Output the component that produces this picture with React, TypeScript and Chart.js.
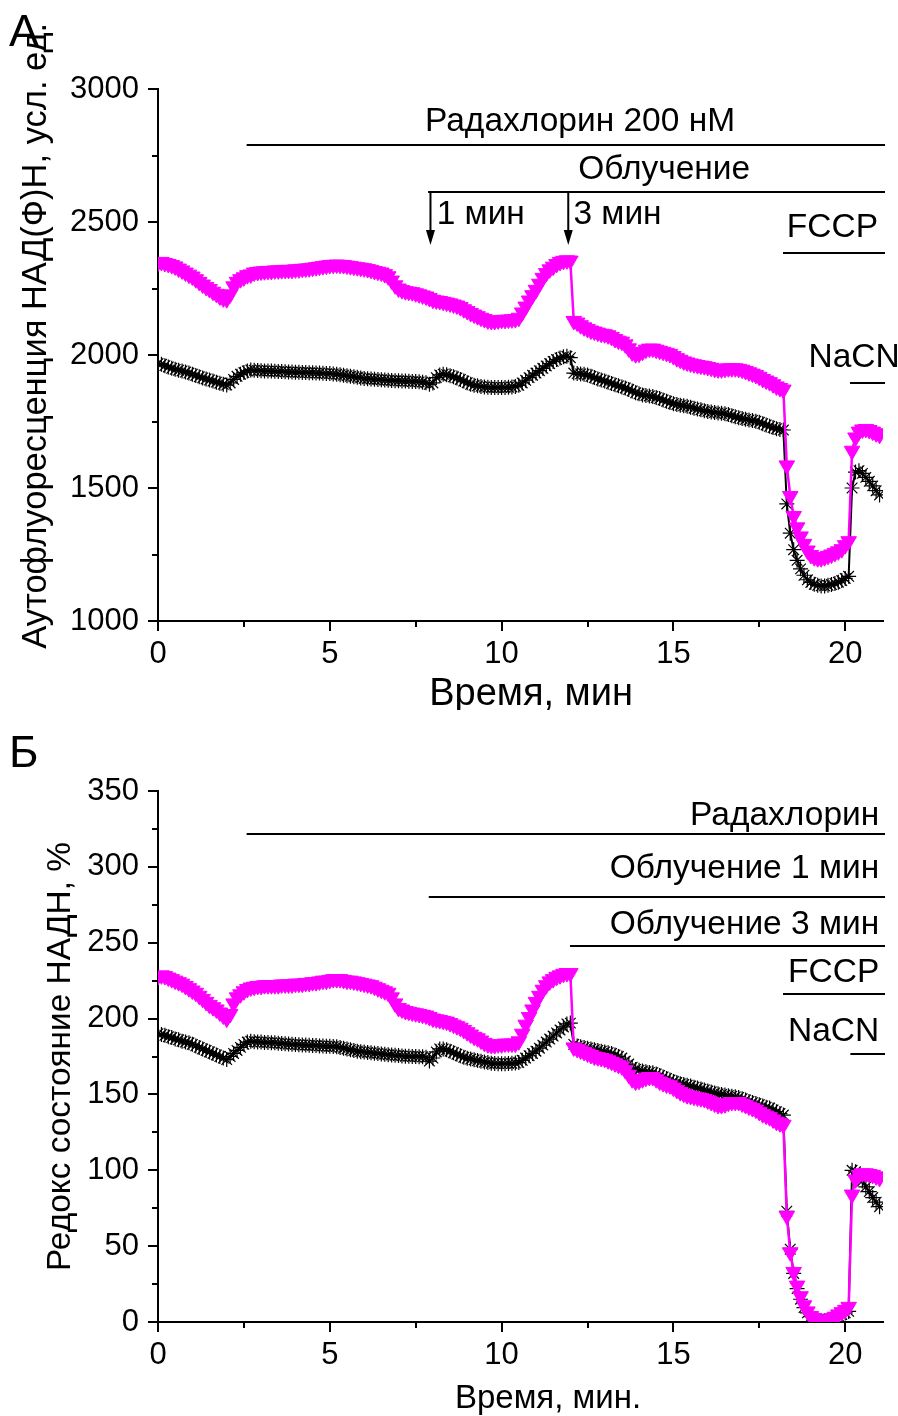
import React, { useEffect, useRef } from 'react';
import { Chart, registerables } from 'chart.js';

Chart.register(...registerables);

const FONT = "'Liberation Sans', Arial, sans-serif";
const MAGENTA = '#FF00FF';

// sampling interval of the recordings, minutes
const TIME_STEP_MIN = 0.1;

// Panel А: NAD(P)H autofluorescence, a.u. (0.0 … 21.0 min)
const A_MAGENTA = [
  2348, 2350, 2346, 2342, 2338, 2333, 2325, 2318, 2310, 2302,
  2295, 2285, 2275, 2265, 2256, 2248, 2238, 2230, 2220, 2213,
  2210, 2228, 2258, 2275, 2285, 2292, 2300, 2303, 2310, 2312,
  2314, 2315, 2316, 2316, 2318, 2318, 2319, 2320, 2320, 2320,
  2322, 2322, 2324, 2325, 2326, 2328, 2330, 2332, 2334, 2336,
  2338, 2339, 2340, 2339, 2338, 2336, 2334, 2332, 2330, 2328,
  2326, 2323, 2320, 2316, 2313, 2310, 2304, 2296, 2280, 2262,
  2250, 2244, 2240, 2238, 2236, 2232, 2228, 2224, 2220, 2214,
  2208, 2205, 2203, 2200, 2197, 2194, 2190, 2186, 2180, 2172,
  2165, 2158, 2152, 2146, 2140, 2135, 2130, 2128, 2128, 2130,
  2132, 2132, 2133, 2134, 2135, 2140, 2160, 2182, 2205, 2225,
  2245, 2268, 2290, 2308, 2322, 2332, 2342, 2350, 2354, 2356,
  2355, 2128, 2122, 2112, 2104, 2098, 2092, 2088, 2084, 2080,
  2078, 2074, 2068, 2060, 2054, 2050, 2040, 2025, 2010, 2003,
  2005, 2012, 2020, 2024, 2024, 2020, 2016, 2012, 2008, 2004,
  1996, 1988, 1982, 1976, 1972, 1968, 1965, 1962, 1960, 1958,
  1955, 1952, 1948, 1946, 1946, 1948, 1950, 1950, 1950, 1948,
  1945, 1940, 1935, 1930, 1925, 1918, 1910, 1904, 1898, 1890,
  1882, 1876, 1870, 1585, 1470, 1395, 1352, 1318, 1290, 1265,
  1248, 1240, 1236, 1236, 1240, 1245, 1250, 1256, 1262, 1270,
  1285, 1300, 1640, 1690, 1712, 1720, 1722, 1718, 1712, 1706,
  1700,
];

const A_BLACK = [
  1968, 1965, 1960, 1955, 1950, 1946, 1943, 1940, 1936, 1932,
  1928, 1923, 1918, 1914, 1910, 1906, 1902, 1898, 1894, 1890,
  1887, 1895, 1908, 1920, 1928, 1934, 1940, 1944, 1943, 1942,
  1941, 1940, 1940, 1940, 1939, 1938, 1938, 1937, 1936, 1936,
  1935, 1935, 1934, 1934, 1933, 1933, 1932, 1932, 1931, 1930,
  1930, 1929, 1928, 1926, 1924, 1922, 1920, 1918, 1916, 1914,
  1912, 1911, 1910, 1909, 1908, 1907, 1906, 1905, 1904, 1903,
  1903, 1902, 1902, 1901, 1900, 1900, 1899, 1898, 1896, 1890,
  1895, 1915, 1925, 1928, 1926, 1922, 1918, 1914, 1908, 1902,
  1896, 1890, 1886, 1884, 1882, 1880, 1879, 1878, 1878, 1878,
  1878, 1878, 1879, 1880, 1882, 1886, 1895, 1905, 1915, 1924,
  1932, 1941, 1950, 1959, 1968, 1976, 1983, 1989, 1993, 1995,
  1990, 1932, 1930, 1929, 1928, 1925, 1920, 1915, 1910, 1906,
  1902, 1898, 1893, 1888, 1884, 1880, 1876, 1870, 1865, 1858,
  1854, 1850, 1848, 1846, 1844, 1840, 1836, 1831, 1826, 1821,
  1817, 1814, 1811, 1809, 1807, 1804, 1800, 1797, 1794, 1790,
  1788, 1786, 1784, 1782, 1781, 1779, 1776, 1772, 1768, 1764,
  1761, 1758, 1756, 1754, 1751, 1747, 1742, 1737, 1732, 1727,
  1723, 1720, 1718, 1440, 1330, 1268, 1228, 1196, 1172, 1155,
  1145, 1138, 1134, 1132, 1132, 1134, 1137, 1141, 1146, 1152,
  1160, 1168, 1500, 1560, 1565, 1555, 1540, 1525, 1508, 1490,
  1474,
];

// Panel Б: NADH redox state, %
const B_MAGENTA = [
  228, 228.5, 228, 227, 226, 225, 224, 223, 221.5, 220,
  218.5, 217, 215, 213, 211, 209, 207.5, 206, 204, 202,
  200, 203, 210, 214, 216, 218, 219.5, 220.5, 221, 221.5,
  221.5, 222, 222, 222, 222, 222, 222.5, 222.5, 222.5, 222.5,
  223, 223, 223, 223.5, 223.5, 224, 224, 224.5, 225, 225,
  225.5, 226, 226, 226, 225.5, 225, 225, 224.5, 224, 223.5,
  223, 222.5, 222, 221, 220, 219, 218, 217, 214, 210,
  207, 206, 205, 204.5, 204, 203.5, 203, 202.5, 202, 201,
  200, 199.5, 199, 198.5, 198, 197, 196, 195, 194, 192.5,
  191, 189.5, 188, 187, 185.5, 184, 183, 182.5, 182.5, 183,
  183, 183.5, 183.5, 183.5, 183.5, 185, 190, 196, 201, 206,
  211, 215, 219, 222, 224.5, 226, 227.5, 228.5, 229.5, 230,
  230, 181, 180, 179, 178, 177, 176, 175, 174.5, 174,
  173.5, 172.5, 171.5, 170.5, 169.5, 168.5, 166, 163, 160, 158.5,
  159, 160, 161, 161.5, 161.5, 160, 158.5, 157.5, 156.5, 156,
  154.5, 153, 151.5, 150.5, 149.5, 149, 148.5, 148, 147.5, 147,
  146, 145, 144, 143, 143, 143.5, 144.5, 145, 145, 145,
  144, 143, 142, 141, 140, 138.5, 137, 136, 135, 133.5,
  132, 131, 130, 70, 46, 33, 24, 17, 11, 7,
  4, 2.5, 1.5, 1, 1, 1.5, 2.5, 3.5, 5, 6.5,
  8, 10, 84, 94, 97, 98, 98, 97.5, 97, 96,
  95,
];

const B_BLACK = [
  190, 189.5, 189, 188, 187.5, 186.5, 186, 185, 184.5, 184,
  183, 182, 181, 180, 179, 178, 177, 176, 175, 174,
  173, 175, 177, 179, 181, 183, 184.5, 185, 184.8, 184.6,
  184.5, 184.3, 184.2, 184.1, 184, 183.8, 183.6, 183.4, 183.2, 183,
  182.9, 182.8, 182.6, 182.5, 182.4, 182.3, 182.2, 182, 181.9, 181.8,
  181.7, 181.6, 181.5, 181, 180.5, 180, 179.5, 179, 178.5, 178.2,
  178, 177.7, 177.5, 177.2, 177, 176.7, 176.5, 176.2, 176, 175.8,
  175.6, 175.4, 175.2, 175.1, 175, 175, 174.9, 174.8, 174.5, 172,
  174, 178, 180, 180, 179.5, 178.5, 177.5, 176.5, 175.5, 174.5,
  173.8, 173.3, 172.8, 172.3, 171.8, 171.3, 171, 170.6, 170.4, 170.3,
  170.3, 170.3, 170.4, 170.5, 170.7, 171, 172.5, 174, 175.5, 177,
  178.5, 180.5, 182.5, 184.5, 186.5, 188.5, 190.5, 192.5, 194.5, 196.5,
  197, 183, 182, 181.5, 181, 180.5, 180, 179.5, 179, 178.5,
  178, 177.5, 177, 176, 175, 174, 172, 170, 168, 166.5,
  166, 165.5, 165, 164.5, 164.3, 163.5, 162.5, 161.5, 160.5, 159.5,
  158.5, 157.8, 157, 156.5, 156, 155.5, 154.8, 154.2, 153.5, 153,
  152.2, 151.6, 151, 150.4, 150, 149.6, 149.2, 148.8, 148.4, 148,
  147.2, 146.4, 145.4, 144.6, 144, 143.2, 142.4, 141.6, 141, 139.8,
  138.6, 137.4, 136.4, 73, 48, 32, 22, 15, 9.5, 6,
  3.5, 2, 1.5, 1, 1, 1.5, 2, 3, 4, 5,
  6, 7, 100, 99, 96, 93, 89, 86, 82, 79,
  76,
];

const X_MAX = 21.1;
const X_STEP_MINOR = 2.5;
const X_STEP_MAJOR = 5;

const A_Y_MIN = 1000;
const A_Y_MAX = 3000;
const A_Y_MINOR = 250;
const A_Y_MAJOR = 500;

const B_Y_MIN = 0;
const B_Y_MAX = 350;
const B_Y_MINOR = 25;
const B_Y_MAJOR = 50;

// treatment annotations (data coordinates)
const A_NOTES = [
  { text: 'Радахлорин 200 нМ', x: 7.77, y: 2842, align: 'left' },
  { text: 'Облучение', x: 12.23, y: 2662, align: 'left' },
  { text: '1 мин', x: 8.11, y: 2492, align: 'left' },
  { text: '3 мин', x: 12.09, y: 2492, align: 'left' },
  { text: 'FCCP', x: 18.3, y: 2444, align: 'left' },
  { text: 'NaCN', x: 18.93, y: 1955, align: 'left' },
];
const A_BARS = [
  { from: 2.58, y: 2789 },
  { from: 7.86, y: 2614 },
  { from: 18.19, y: 2382 },
  { from: 20.14, y: 1895 },
];
const A_ARROWS = [
  { x: 7.93, from: 2614, to: 2414 },
  { x: 11.94, from: 2614, to: 2414 },
];

const B_NOTES = [
  { text: 'Радахлорин', x: 20.99, y: 327.4, align: 'right' },
  { text: 'Облучение 1 мин', x: 20.99, y: 292.5, align: 'right' },
  { text: 'Облучение 3 мин', x: 20.99, y: 255.6, align: 'right' },
  { text: 'FCCP', x: 20.99, y: 224, align: 'right' },
  { text: 'NaCN', x: 20.99, y: 185.1, align: 'right' },
];
const B_BARS = [
  { from: 2.58, y: 321.5 },
  { from: 7.88, y: 280 },
  { from: 11.99, y: 247.7 },
  { from: 18.19, y: 216 },
  { from: 20.15, y: 176.5 },
];

type Panel = {
  magenta: number[];
  black: number[];
  yMin: number;
  yMax: number;
  yMinor: number;
  yMajor: number;
  letter: string;
  letterBaseline: number;
  padTop: number;
  xAxisH: number;
  xTitle: string;
  xTitleSize: number;
  xTitleLH: number;
  xTitlePadB: number;
  yTitle: string;
  yTitleSize: number;
  yTitlePadTop: number;
  notes: { text: string; x: number; y: number; align: string }[];
  bars: { from: number; y: number }[];
  arrows: { x: number; from: number; to: number }[];
};

const isMultiple = (v: number, step: number) => Math.abs(v / step - Math.round(v / step)) < 1e-6;

function makeChart(canvas: HTMLCanvasElement, p: Panel) {
  const times = p.magenta.map((_, i) => Math.round(i * TIME_STEP_MIN * 10) / 10);
  const pts = (arr: number[]) => arr.map((v, i) => ({ x: times[i], y: v }));

  const decor = {
    id: 'decor',
    afterDraw(chart: any) {
      const { ctx, chartArea: ca } = chart;
      const xs = chart.scales.x;
      const ys = chart.scales.y;
      ctx.save();
      // tick marks (major long, minor short), outward
      ctx.strokeStyle = '#000';
      ctx.lineWidth = 2;
      ctx.beginPath();
      xs.ticks.forEach((t: any) => {
        const px = Math.round(xs.getPixelForValue(t.value));
        const len = isMultiple(t.value, X_STEP_MAJOR) ? 10 : 6;
        ctx.moveTo(px, ca.bottom);
        ctx.lineTo(px, ca.bottom + len);
      });
      ys.ticks.forEach((t: any) => {
        const py = Math.round(ys.getPixelForValue(t.value));
        const len = isMultiple(t.value, p.yMajor) ? 10 : 6;
        ctx.moveTo(ca.left, py);
        ctx.lineTo(ca.left - len, py);
      });
      ctx.stroke();

      // panel letter
      ctx.fillStyle = '#000';
      ctx.font = `45px ${FONT}`;
      ctx.textAlign = 'left';
      ctx.textBaseline = 'alphabetic';
      ctx.fillText(p.letter, 9, p.letterBaseline);

      // notes
      ctx.font = `33.5px ${FONT}`;
      p.notes.forEach((n) => {
        ctx.textAlign = n.align as CanvasTextAlign;
        ctx.fillText(n.text, xs.getPixelForValue(n.x), ys.getPixelForValue(n.y));
      });

      // bars
      ctx.lineWidth = 2;
      ctx.beginPath();
      p.bars.forEach((b) => {
        const py = Math.round(ys.getPixelForValue(b.y));
        ctx.moveTo(xs.getPixelForValue(b.from), py);
        ctx.lineTo(ca.right + 2, py);
      });
      ctx.stroke();

      // arrows
      p.arrows.forEach((a) => {
        const px = xs.getPixelForValue(a.x);
        const y0 = ys.getPixelForValue(a.from);
        const y1 = ys.getPixelForValue(a.to);
        ctx.beginPath();
        ctx.lineWidth = 2;
        ctx.moveTo(px, y0);
        ctx.lineTo(px, y1 - 12);
        ctx.stroke();
        ctx.beginPath();
        ctx.moveTo(px - 4.5, y1 - 15);
        ctx.lineTo(px + 4.5, y1 - 15);
        ctx.lineTo(px, y1);
        ctx.closePath();
        ctx.fill();
      });
      ctx.restore();
    },
  };

  return new Chart(canvas, {
    type: 'line',
    data: {
      datasets: [
        {
          data: pts(p.magenta),
          borderColor: MAGENTA,
          borderWidth: 2.5,
          pointStyle: 'triangle',
          rotation: 180,
          pointRadius: 9,
          pointBackgroundColor: MAGENTA,
          pointBorderColor: MAGENTA,
          pointBorderWidth: 1,
          tension: 0,
        } as any,
        {
          data: pts(p.black),
          borderColor: '#000',
          borderWidth: 2,
          pointStyle: 'star',
          pointRadius: 7.5,
          pointBackgroundColor: '#000',
          pointBorderColor: '#000',
          pointBorderWidth: 1.2,
          tension: 0,
        } as any,
      ],
    },
    options: {
      animation: false,
      responsive: false,
      devicePixelRatio: 1,
      events: [],
      layout: { padding: { top: p.padTop, right: 15, left: 0, bottom: 0 } },
      plugins: { legend: { display: false }, tooltip: { enabled: false } },
      scales: {
        x: {
          type: 'linear',
          min: 0,
          max: X_MAX,
          afterFit: (s: any) => {
            s.height = p.xAxisH;
          },
          afterBuildTicks: (s: any) => {
            s.ticks = s.ticks.filter((t: any) => isMultiple(t.value, X_STEP_MINOR));
          },
          ticks: {
            stepSize: X_STEP_MINOR,
            includeBounds: false,
            autoSkip: false,
            maxRotation: 0,
            padding: 5,
            color: '#000',
            font: { family: FONT, size: 31 },
            callback: (v: any) => (isMultiple(Number(v), X_STEP_MAJOR) ? String(v) : ''),
          },
          grid: {
            display: true,
            drawOnChartArea: false,
            drawTicks: true,
            tickLength: 10,
            color: 'transparent',
            tickColor: 'transparent',
          },
          border: { display: true, color: '#000', width: 2 },
          title: {
            display: true,
            text: p.xTitle,
            color: '#000',
            font: { family: FONT, size: p.xTitleSize, lineHeight: p.xTitleLH },
            padding: { top: 0, bottom: p.xTitlePadB },
          },
        },
        y: {
          type: 'linear',
          min: p.yMin,
          max: p.yMax,
          afterFit: (s: any) => {
            s.width = 158;
          },
          afterBuildTicks: (s: any) => {
            s.ticks = s.ticks.filter((t: any) => isMultiple(t.value, p.yMinor));
          },
          ticks: {
            stepSize: p.yMinor,
            includeBounds: false,
            autoSkip: false,
            padding: 9,
            color: '#000',
            font: { family: FONT, size: 31 },
            callback: (v: any) => (isMultiple(Number(v), p.yMajor) ? String(v) : ''),
          },
          grid: {
            display: true,
            drawOnChartArea: false,
            drawTicks: true,
            tickLength: 10,
            color: 'transparent',
            tickColor: 'transparent',
          },
          border: { display: true, color: '#000', width: 2 },
          title: {
            display: true,
            text: p.yTitle,
            color: '#000',
            font: { family: FONT, size: p.yTitleSize, lineHeight: 1 },
            padding: { top: p.yTitlePadTop, bottom: 0 },
          },
        },
      },
    } as any,
    plugins: [decor],
  });
}

export default function App() {
  const refA = useRef<HTMLCanvasElement>(null);
  const refB = useRef<HTMLCanvasElement>(null);

  useEffect(() => {
    const a = makeChart(refA.current!, {
      magenta: A_MAGENTA,
      black: A_BLACK,
      yMin: A_Y_MIN,
      yMax: A_Y_MAX,
      yMinor: A_Y_MINOR,
      yMajor: A_Y_MAJOR,
      letter: 'А',
      letterBaseline: 46,
      padTop: 89,
      xAxisH: 89,
      xTitle: '  Время, мин',
      xTitleSize: 38,
      xTitleLH: 0.8,
      xTitlePadB: 0,
      yTitle: '    Аутофлуоресценция НАД(Ф)Н, усл. ед.',
      yTitleSize: 34.5,
      yTitlePadTop: 19,
      notes: A_NOTES,
      bars: A_BARS,
      arrows: A_ARROWS,
    });
    const b = makeChart(refB.current!, {
      magenta: B_MAGENTA,
      black: B_BLACK,
      yMin: B_Y_MIN,
      yMax: B_Y_MAX,
      yMinor: B_Y_MINOR,
      yMajor: B_Y_MAJOR,
      letter: 'Б',
      letterBaseline: 57,
      padTop: 81,
      xAxisH: 94,
      xTitle: '      Время, мин.',
      xTitleSize: 33,
      xTitleLH: 1,
      xTitlePadB: 1,
      yTitle: 'Редокс состояние НАДН, %',
      yTitleSize: 33.4,
      yTitlePadTop: 44,
      notes: B_NOTES,
      bars: B_BARS,
      arrows: [],
    });
    return () => {
      a.destroy();
      b.destroy();
    };
  }, []);

  return (
    <div style={{ position: 'absolute', left: 0, top: 0, width: 898, height: 1416, background: '#fff' }}>
      <canvas ref={refA} width={898} height={710} style={{ display: 'block', width: 898, height: 710 }} />
      <canvas ref={refB} width={898} height={706} style={{ display: 'block', width: 898, height: 706 }} />
    </div>
  );
}
